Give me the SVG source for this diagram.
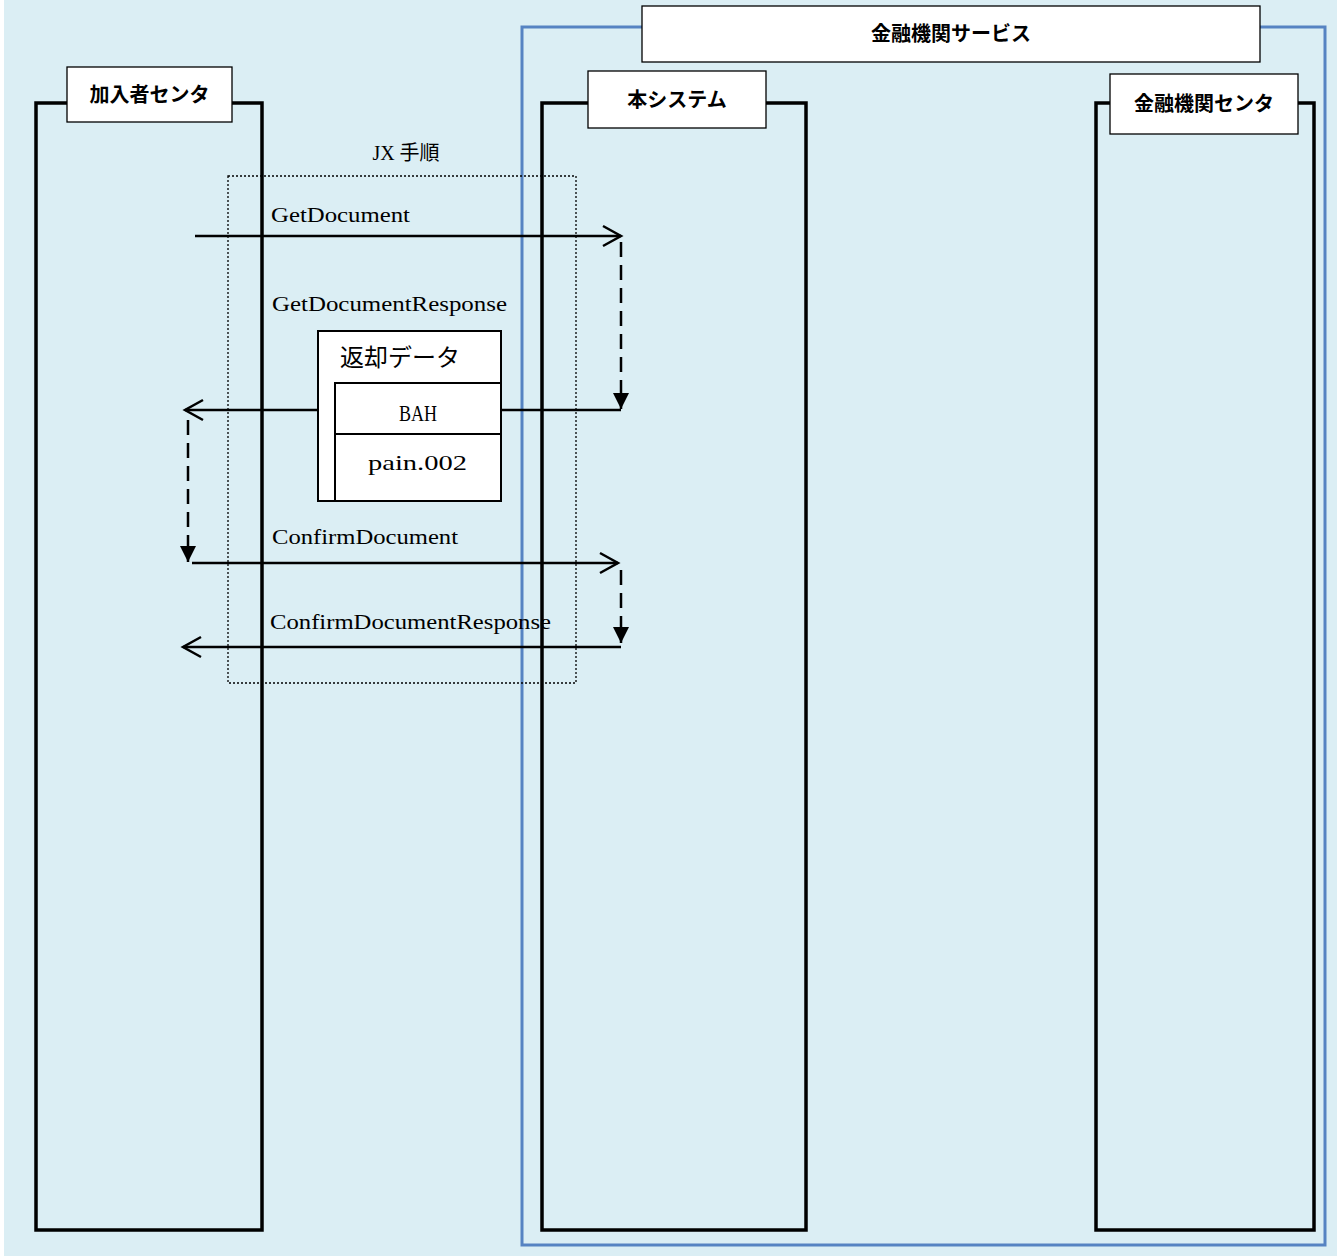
<svg xmlns="http://www.w3.org/2000/svg" width="1341" height="1256" viewBox="0 0 1341 1256">
<style>
.life{fill:none;stroke:#000;stroke-width:3.5;stroke-linejoin:miter}
.hdr{fill:#fff;stroke:#000;stroke-width:1.3}
.htxt{font-family:"Noto Sans CJK JP","Liberation Sans",sans-serif;font-weight:bold;font-size:20px;text-anchor:middle;fill:#000}
.lbl{font-family:"Liberation Serif","Noto Sans CJK JP",serif;font-size:21px;fill:#000}
.mono{font-family:"Liberation Serif",serif;font-size:21px;fill:#000}
.msg{fill:none;stroke:#000;stroke-width:2.5}
.dash{fill:none;stroke:#000;stroke-width:2.5;stroke-dasharray:15 8}
.box{fill:#fff;stroke:#000;stroke-width:2}
</style>
<defs>
<marker id="open" markerUnits="userSpaceOnUse" markerWidth="30" markerHeight="30" viewBox="-22 -15 30 30" refX="0" refY="0" orient="auto">
<path d="M-18,-10 L0,0 L-18,10" fill="none" stroke="#000" stroke-width="2.5" stroke-dasharray="none"/>
</marker>
<marker id="fill" markerUnits="userSpaceOnUse" markerWidth="30" markerHeight="30" viewBox="-20 -15 30 30" refX="0" refY="0" orient="auto">
<path d="M-16,-8 L0,0 L-16,8 z" fill="#000" stroke="none"/>
</marker>
</defs>
<rect x="4" y="0" width="1333" height="1256" fill="#DBEEF4"/>
<g id="kanyusha">
<rect class="life" x="36" y="103" width="226" height="1127"/>
<rect class="hdr" x="67" y="67" width="165" height="55"/>
<text class="htxt" x="149.5" y="102">加入者センタ</text>
</g>
<g id="kinyu-service">
<rect x="522" y="27" width="803" height="1218" fill="none" stroke="#5683C2" stroke-width="3"/>
<rect class="hdr" x="642" y="6" width="618" height="56"/>
<text class="htxt" x="951" y="41">金融機関サービス</text>
</g>
<g id="honsystem">
<rect class="life" x="542" y="103" width="264" height="1127"/>
<rect class="hdr" x="588" y="71" width="178" height="57"/>
<text class="htxt" x="677" y="107">本システム</text>
</g>
<g id="kinyu-center">
<rect class="life" x="1096" y="103" width="218" height="1127"/>
<rect class="hdr" x="1110" y="74" width="188" height="60"/>
<text class="htxt" x="1204" y="111">金融機関センタ</text>
</g>
<g id="jx-frame">
<rect x="228" y="176" width="348" height="507" fill="none" stroke="#000" stroke-width="1.3" stroke-dasharray="2 2"/>
<text class="lbl" x="406" y="160" text-anchor="middle" style="font-size:20px">JX 手順</text>
</g>
<g id="connectors">
<line class="msg" x1="195" y1="236" x2="621" y2="236" marker-end="url(#open)"/>
<line class="dash" x1="621" y1="242" x2="621" y2="409" marker-end="url(#fill)"/>
<line class="msg" x1="621" y1="410" x2="185" y2="410" marker-end="url(#open)"/>
<line class="dash" x1="188" y1="420" x2="188" y2="562" marker-end="url(#fill)"/>
<line class="msg" x1="192" y1="563" x2="618" y2="563" marker-end="url(#open)"/>
<line class="dash" x1="621" y1="570" x2="621" y2="643" marker-end="url(#fill)"/>
<line class="msg" x1="621" y1="647" x2="183" y2="647" marker-end="url(#open)"/>
<text class="lbl" x="271" y="222" textLength="139" lengthAdjust="spacingAndGlyphs">GetDocument</text>
<text class="lbl" x="272" y="311" textLength="235" lengthAdjust="spacingAndGlyphs">GetDocumentResponse</text>
<text class="lbl" x="272" y="544" textLength="186" lengthAdjust="spacingAndGlyphs">ConfirmDocument</text>
<text class="lbl" x="270" y="629" textLength="281" lengthAdjust="spacingAndGlyphs">ConfirmDocumentResponse</text>
</g>
<g id="henkyaku-data">
<rect class="box" x="318" y="331" width="183" height="170"/>
<text x="340" y="366" font-family="Noto Sans CJK JP,sans-serif" font-size="24" fill="#000" textLength="120" lengthAdjust="spacingAndGlyphs">返却データ</text>
<rect class="box" x="335" y="383" width="166" height="51"/>
<rect class="box" x="335" y="434" width="166" height="67"/>
<text class="mono" x="399" y="421" style="font-size:24px" textLength="38" lengthAdjust="spacingAndGlyphs">BAH</text>
<text class="mono" x="368" y="470" style="font-size:22px" textLength="99" lengthAdjust="spacingAndGlyphs">pain.002</text>
</g>
</svg>
